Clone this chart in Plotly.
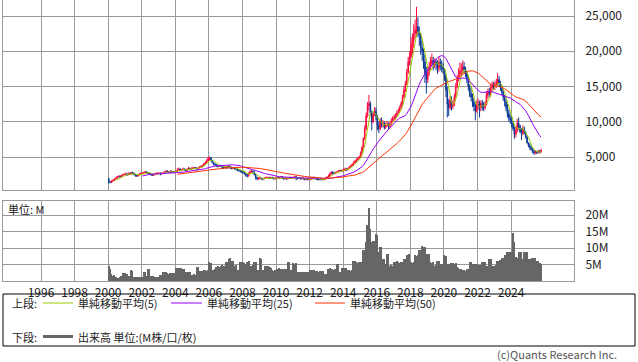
import pandas as pd
import plotly.graph_objects as go

# ---------------- data (monthly, Jan 2000 - Oct 2025) ----------------
close_px = [
    1500, 1400, 1600, 1700, 1900, 2000, 2200, 2300, 2200, 2400, 2500, 2500,
    2600, 2500, 2700, 2600, 2800, 2700, 2500, 2400, 2300, 2500, 2600, 2700,
    2700, 2800, 2900, 2800, 2700, 2600, 2500, 2400, 2500, 2600, 2700, 2700,
    2700, 2600, 2700, 2800, 2900, 3000, 2900, 2800, 3000, 2900, 2800, 2900,
    3000, 3200, 3300, 3100, 3200, 3300, 3200, 3100, 3300, 3400, 3300, 3400,
    3400, 3500, 3400, 3300, 3500, 3600, 3700, 3800, 4000, 4200, 4500, 4800,
    4900, 4500, 4200, 4000, 3900, 3800, 3700, 3800, 3700, 3600, 3500, 3600,
    3500, 3700, 3600, 3500, 3400, 3500, 3400, 3300, 3200, 3100, 3000, 2900,
    2900, 2600, 2400, 2300, 2700, 2900, 3000, 2900, 2500, 2100, 1900, 2000,
    2000, 1900, 1900, 2000, 2100, 2100, 2100, 2000, 2100, 2000, 1900, 2000,
    2100, 2000, 2100, 2200, 2000, 1900, 2000, 1900, 2000, 2100, 2000, 2100,
    2100, 2200, 2000, 2000, 2000, 1900, 2000, 1900, 1800, 1900, 1800, 1900,
    1900, 2000, 2100, 2000, 1900, 1800, 1800, 1800, 1800, 1800, 1900, 2000,
    2100, 2300, 2600, 2800, 2700, 2700, 2800, 2900, 3000, 3100, 3000, 3100,
    3200, 3300, 3200, 3400, 3600, 3800, 3900, 4200, 4400, 4600, 4800, 5000,
    5500, 6300, 7600, 9000, 10800, 12300, 12600, 11300, 10000, 11000, 11500, 10800,
    9500, 9000, 10200, 9700, 9800, 9200, 9500, 9700, 9300, 9700, 10200, 10500,
    10600, 10900, 11200, 11600, 12000, 12600, 13500, 14500, 15400, 17000, 18500, 19200,
    21000, 21500, 22500, 23000, 23500, 22800, 22300, 20500, 20000, 18500, 16800, 16000,
    17000, 17800, 18300, 18700, 18000, 18500, 18200, 17600, 18400, 18000, 17800, 17400,
    16500, 14500, 12500, 12000, 13000, 12200, 12400, 13500, 15000, 16000, 16800, 17200,
    17300, 17800, 17500, 16800, 16000, 15000, 14000, 13500, 12800, 12200, 11500, 12300,
    12500, 12000, 12600, 12200, 12000, 12400, 13800, 14200, 14000, 14800, 15200, 15000,
    15200, 15600, 16000, 15400, 14800, 14200, 13500, 12800, 12000, 11200, 10500, 10200,
    9800, 9000, 8200, 8700, 9800, 9400, 8600, 8300, 9000, 8500, 7800, 7000,
    6600, 6300, 6100, 5800, 5600, 5700, 5600, 5800, 5700, 5900,
]

open_px = [
    1900, 1500, 1400, 1600, 1700, 1900, 2000, 2200, 2300, 2200, 2400, 2500,
    2500, 2600, 2500, 2700, 2600, 2800, 2700, 2500, 2400, 2300, 2500, 2600,
    2700, 2700, 2800, 2900, 2800, 2700, 2600, 2500, 2400, 2500, 2600, 2700,
    2700, 2700, 2600, 2700, 2800, 2900, 3000, 2900, 2800, 3000, 2900, 2800,
    2900, 3000, 3200, 3300, 3100, 3200, 3300, 3200, 3100, 3300, 3400, 3300,
    3400, 3400, 3500, 3400, 3300, 3500, 3600, 3700, 3800, 4000, 4200, 4500,
    4800, 4900, 4500, 4200, 4000, 3900, 3800, 3700, 3800, 3700, 3600, 3500,
    3600, 3500, 3700, 3600, 3500, 3400, 3500, 3400, 3300, 3200, 3100, 3000,
    2900, 2900, 2600, 2400, 2300, 2700, 2900, 3000, 2900, 2500, 2100, 1900,
    2000, 2000, 1900, 1900, 2000, 2100, 2100, 2100, 2000, 2100, 2000, 1900,
    2000, 2100, 2000, 2100, 2200, 2000, 1900, 2000, 1900, 2000, 2100, 2000,
    2100, 2100, 2200, 2000, 2000, 2000, 1900, 2000, 1900, 1800, 1900, 1800,
    1900, 1900, 2000, 2100, 2000, 1900, 1800, 1800, 1800, 1800, 1800, 1900,
    2000, 2100, 2300, 2600, 2800, 2700, 2700, 2800, 2900, 3000, 3100, 3000,
    3100, 3200, 3300, 3200, 3400, 3600, 3800, 3900, 4200, 4400, 4600, 4800,
    5000, 5500, 6300, 7600, 9000, 10800, 12300, 12600, 11300, 10000, 11000, 11500,
    10800, 9500, 9000, 10200, 9700, 9800, 9200, 9500, 9700, 9300, 9700, 10200,
    10500, 10600, 10900, 11200, 11600, 12000, 12600, 13500, 14500, 15400, 17000, 18500,
    19200, 21000, 21500, 22500, 23000, 23500, 22800, 22300, 20500, 20000, 18500, 16800,
    16000, 17000, 17800, 18300, 18700, 18000, 18500, 18200, 17600, 18400, 18000, 17800,
    17400, 16500, 14500, 12500, 12000, 13000, 12200, 12400, 13500, 15000, 16000, 16800,
    17200, 17300, 17800, 17500, 16800, 16000, 15000, 14000, 13500, 12800, 12200, 11500,
    12300, 12500, 12000, 12600, 12200, 12000, 12400, 13800, 14200, 14000, 14800, 15200,
    15000, 15200, 15600, 16000, 15400, 14800, 14200, 13500, 12800, 12000, 11200, 10500,
    10200, 9800, 9000, 8200, 8700, 9800, 9400, 8600, 8300, 9000, 8500, 7800,
    7000, 6600, 6300, 6100, 5800, 5600, 5700, 5600, 5800, 5700,
]

high_px = [
    2000, 1600, 1700, 1800, 2000, 2100, 2300, 2400, 2400, 2500, 2600, 2700,
    2800, 2700, 2800, 2800, 2900, 2900, 2800, 2600, 2500, 2600, 2700, 2800,
    2800, 2900, 3000, 3000, 2900, 2800, 2700, 2600, 2600, 2700, 2800, 2800,
    2800, 2800, 2800, 2900, 3000, 3100, 3100, 3000, 3100, 3100, 3000, 3000,
    3100, 3400, 3500, 3400, 3300, 3500, 3400, 3300, 3400, 3600, 3500, 3500,
    3600, 3600, 3600, 3500, 3600, 3700, 3800, 3900, 4200, 4400, 4700, 5000,
    5100, 5000, 4600, 4300, 4100, 4000, 3900, 3900, 3900, 3800, 3700, 3700,
    3700, 3800, 3800, 3700, 3600, 3600, 3600, 3500, 3400, 3300, 3200, 3100,
    3100, 3000, 2700, 2600, 2800, 3100, 3200, 3100, 3000, 2600, 2200, 2100,
    2200, 2100, 2000, 2100, 2200, 2200, 2200, 2200, 2200, 2200, 2100, 2100,
    2200, 2200, 2200, 2300, 2300, 2100, 2100, 2100, 2100, 2200, 2200, 2200,
    2200, 2300, 2300, 2100, 2100, 2100, 2100, 2100, 2000, 2000, 2000, 2000,
    2000, 2100, 2200, 2200, 2100, 2000, 1900, 1900, 1900, 1900, 2000, 2100,
    2300, 2500, 2800, 3000, 3000, 2900, 2900, 3000, 3100, 3200, 3200, 3200,
    3400, 3500, 3400, 3500, 3700, 3900, 4100, 4400, 4600, 4800, 5000, 5200,
    5800, 6600, 7800, 9500, 11300, 12800, 13800, 12900, 11600, 11500, 12100, 12000,
    11000, 10000, 10500, 10600, 10200, 10000, 9900, 10100, 9900, 10000, 10500, 10800,
    11000, 11200, 11600, 11900, 12300, 12900, 13800, 15000, 15800, 17500, 19200, 20000,
    22000, 22500, 23800, 24500, 26300, 24800, 23500, 22600, 21500, 20400, 19500, 17800,
    17800, 18500, 19200, 19700, 19200, 19000, 18900, 18700, 19200, 19000, 18700, 18300,
    17600, 16800, 15000, 13200, 13600, 13600, 13000, 14000, 15500, 16600, 17600, 18400,
    18300, 18700, 18500, 17800, 17200, 16500, 15300, 14800, 14000, 13300, 12600, 13000,
    13300, 13000, 13000, 13100, 12800, 12900, 14300, 14700, 14800, 15400, 15700, 15600,
    15800, 16100, 16900, 16500, 15800, 15200, 14500, 13800, 13200, 12500, 11700, 11000,
    10800, 10000, 9300, 9400, 10400, 10600, 9600, 9100, 9500, 9300, 8700, 8000,
    7100, 6900, 6500, 6300, 6000, 6000, 5900, 6000, 6000, 6200,
]

low_px = [
    1200, 1300, 1300, 1500, 1600, 1800, 1900, 2100, 2100, 2100, 2300, 2400,
    2400, 2300, 2400, 2500, 2500, 2600, 2400, 2200, 2200, 2200, 2400, 2500,
    2600, 2600, 2700, 2700, 2600, 2500, 2400, 2300, 2300, 2400, 2500, 2600,
    2600, 2400, 2500, 2600, 2700, 2800, 2800, 2700, 2700, 2800, 2700, 2700,
    2800, 2900, 3100, 3000, 3000, 3100, 3100, 3000, 3000, 3200, 3200, 3200,
    3200, 3300, 3300, 3200, 3200, 3400, 3500, 3600, 3700, 3900, 4100, 4400,
    4500, 4400, 4100, 3800, 3700, 3600, 3500, 3600, 3600, 3400, 3300, 3400,
    3300, 3400, 3400, 3300, 3200, 3300, 3200, 3100, 3000, 2900, 2800, 2700,
    2600, 2500, 2200, 2100, 2200, 2600, 2800, 2700, 2400, 1800, 1700, 1800,
    1800, 1800, 1700, 1800, 1900, 2000, 1900, 1900, 1900, 1900, 1800, 1800,
    1900, 1900, 1900, 2000, 1900, 1800, 1800, 1800, 1800, 1900, 1900, 1900,
    1900, 2000, 1700, 1800, 1900, 1800, 1800, 1800, 1700, 1700, 1700, 1700,
    1700, 1800, 1900, 1900, 1800, 1700, 1700, 1700, 1700, 1700, 1700, 1800,
    1900, 2000, 2200, 2500, 2500, 2500, 2600, 2700, 2800, 2900, 2900, 2900,
    2900, 3000, 3000, 3100, 3300, 3500, 3700, 3800, 4100, 4200, 4500, 4700,
    4900, 5300, 6200, 7400, 8800, 10600, 11600, 10800, 8800, 9800, 10800, 10200,
    8800, 8400, 8800, 9200, 9200, 8900, 9000, 9300, 8900, 9100, 9500, 10000,
    10100, 10300, 10700, 11000, 11400, 11800, 12400, 13300, 14200, 15200, 16800, 18000,
    19000, 19500, 20500, 21800, 22200, 22000, 20800, 19500, 18700, 17500, 15500, 14000,
    15500, 16500, 17400, 17800, 17300, 17600, 17300, 16800, 17100, 17300, 17000, 16800,
    15800, 13500, 10600, 10800, 11700, 11600, 11800, 12200, 13300, 14700, 15700, 16300,
    16600, 16800, 16900, 16300, 15500, 14400, 13500, 12900, 12100, 11500, 10200, 11300,
    11700, 10600, 11500, 11600, 11500, 11700, 12300, 13300, 13500, 13600, 14300, 14500,
    14500, 14800, 15200, 15000, 14400, 13800, 13000, 12200, 11500, 10600, 10000, 9700,
    9200, 8700, 7600, 7800, 8500, 8900, 8400, 7400, 8100, 8200, 7600, 6900,
    6400, 6000, 5900, 5500, 5300, 5400, 5400, 5500, 5500, 5600,
]

volume_m = [
    4.7, 3.7, 2.1, 1.5, 1.9, 1.2, 0.6, 1.0, 1.3, 1.6, 2.3, 1.6,
    2.3, 2.0, 1.6, 1.6, 3.2, 3.0, 1.3, 1.3, 1.2, 1.1, 1.1, 1.2,
    1.2, 2.7, 2.6, 1.6, 3.7, 3.5, 1.6, 1.5, 1.6, 1.3, 1.3, 1.2,
    1.3, 1.9, 1.9, 2.7, 2.7, 2.6, 2.3, 2.2, 2.4, 2.3, 2.1, 2.3,
    4.0, 3.9, 4.1, 3.7, 3.8, 3.6, 3.7, 2.7, 2.8, 2.6, 2.7, 1.9,
    1.9, 2.0, 1.8, 4.4, 4.2, 2.9, 2.8, 3.0, 3.2, 3.3, 3.1, 3.4,
    5.7, 5.5, 3.4, 3.3, 3.5, 4.4, 4.5, 4.3, 4.7, 4.8, 4.6, 4.7,
    5.7, 5.8, 6.7, 7.1, 6.2, 6.1, 4.7, 4.8, 3.2, 3.3, 5.9, 5.8,
    5.9, 5.4, 5.3, 5.9, 6.0, 4.7, 4.6, 4.8, 5.9, 5.8, 3.2, 3.3,
    7.0, 6.8, 3.2, 3.3, 4.7, 4.6, 4.7, 4.2, 4.1, 3.2, 3.1, 3.3,
    3.7, 3.6, 3.8, 3.7, 3.6, 3.5, 3.7, 3.6, 5.9, 5.8, 3.2, 3.3,
    5.4, 5.3, 5.5, 2.7, 2.8, 2.6, 2.7, 2.5, 2.8, 2.7, 2.6, 2.7,
    3.2, 3.3, 3.1, 3.2, 3.0, 2.9, 2.8, 2.9, 3.0, 2.9, 2.1, 2.0,
    2.2, 3.7, 3.8, 3.6, 3.5, 3.4, 3.5, 5.2, 5.1, 2.7, 2.8, 3.9,
    3.9, 4.0, 3.8, 3.2, 3.3, 3.1, 3.2, 6.2, 6.0, 5.7, 5.6, 5.8,
    5.7, 5.8, 9.5, 9.3, 11.8, 16.9, 22.3, 15.9, 11.8, 12.3, 12.0, 14.2,
    14.0, 8.8, 10.3, 10.2, 6.7, 6.6, 5.2, 8.3, 8.2, 4.7, 4.8, 4.6,
    5.9, 5.8, 6.0, 5.7, 5.6, 5.8, 5.7, 6.7, 6.6, 8.0, 7.9, 8.1,
    5.7, 5.6, 5.8, 7.8, 7.7, 7.9, 9.5, 9.4, 10.5, 10.4, 10.3, 8.3,
    8.2, 8.1, 5.7, 5.6, 5.8, 4.7, 4.8, 6.0, 6.1, 5.2, 5.1, 5.3,
    7.8, 7.7, 5.2, 5.3, 5.1, 5.4, 5.5, 5.3, 5.4, 4.2, 4.1, 3.7,
    3.6, 3.2, 3.3, 3.1, 3.7, 3.6, 5.9, 5.8, 5.2, 5.1, 5.3, 5.2,
    4.9, 5.0, 4.8, 5.9, 5.8, 5.9, 4.7, 4.6, 6.7, 6.6, 4.7, 4.6,
    4.7, 4.8, 6.2, 6.1, 6.3, 6.9, 7.0, 7.8, 7.7, 8.8, 8.7, 8.9,
    8.8, 14.5, 11.8, 7.2, 7.1, 8.8, 8.9, 8.7, 6.7, 8.8, 8.9, 8.7,
    6.7, 6.6, 6.8, 7.0, 7.1, 6.9, 6.2, 6.1, 5.4, 5.3,
]

year_ticks = list(range(1996, 2025, 2))
price_ticks = [5000, 10000, 15000, 20000, 25000]
volume_ticks = [5, 10, 15, 20]
ma_windows = [5, 25, 50]
ma_labels = ["単純移動平均(5)", "単純移動平均(25)", "単純移動平均(50)"]

# ---------------- styling ----------------
W, H = 638, 362
RED = "#ff0a3c"
BLUE = "#0a3896"
MA_COLORS = ["#99cc00", "#9900ff", "#ff3300"]
VOL_COLOR = "#666666"
GRID = "#999999"
FONT = "Noto Sans CJK JP"


def px_x(v):
    return v / W


def px_y(v):
    return 1 - v / H


n = len(close_px)
months = pd.date_range("2000-01-01", periods=n, freq="MS") + pd.Timedelta(days=14)
closes = pd.Series(close_px, dtype=float)

fig = go.Figure()

fig.add_trace(go.Candlestick(
    x=months, open=open_px, high=high_px, low=low_px, close=close_px,
    increasing=dict(line=dict(color=RED, width=1), fillcolor=RED),
    decreasing=dict(line=dict(color=BLUE, width=1), fillcolor=BLUE),
    whiskerwidth=0, xaxis="x", yaxis="y", showlegend=False, hoverinfo="skip",
))

for w, c in zip(ma_windows, MA_COLORS):
    fig.add_trace(go.Scatter(
        x=months, y=closes.rolling(w, min_periods=w).mean(), mode="lines",
        line=dict(color=c, width=1), xaxis="x", yaxis="y",
        showlegend=False, hoverinfo="skip",
    ))

fig.add_trace(go.Bar(
    x=months, y=volume_m, marker=dict(color=VOL_COLOR, line=dict(width=0)),
    xaxis="x2", yaxis="y2", showlegend=False, hoverinfo="skip",
))

x_range = ["1993-09-26", "2027-10-02"]
tick_dates = [f"{y}-01-01" for y in year_ticks]
common_x = dict(
    type="date", range=x_range, tickvals=tick_dates, showgrid=True,
    gridcolor=GRID, gridwidth=1, showline=True, linecolor=GRID, linewidth=1,
    mirror=True, zeroline=False, fixedrange=True,
    domain=[px_x(3), px_x(574)],
)
common_y = dict(
    side="right", showgrid=True, gridcolor=GRID, gridwidth=1, showline=True,
    linecolor=GRID, linewidth=1, mirror=True, zeroline=False,
    ticks="outside", ticklen=8, tickcolor="rgba(0,0,0,0)", fixedrange=True,
    tickfont=dict(size=12, color="#222222", family=FONT),
)

fig.update_layout(
    width=W, height=H, autosize=False,
    margin=dict(l=0, r=0, t=0, b=0),
    paper_bgcolor="white", plot_bgcolor="white",
    font=dict(family=FONT, size=11, color="#222222"),
    bargap=0,
    showlegend=False,
    xaxis=dict(common_x, anchor="y", showticklabels=False,
               rangeslider=dict(visible=False)),
    yaxis=dict(common_y, anchor="x", range=[320, 27270],
               domain=[px_y(190), 1.0], tickvals=price_ticks,
               ticktext=[f"{v:,}" for v in price_ticks]),
    xaxis2=dict(common_x, anchor="y2", showticklabels=True,
                ticktext=[str(y) for y in year_ticks], ticks="outside",
                ticklen=1, tickcolor="rgba(0,0,0,0)",
                tickfont=dict(size=12, color="#222222", family=FONT)),
    yaxis2=dict(common_y, anchor="x2", range=[0, 24.3],
                domain=[px_y(281), px_y(201)], tickvals=volume_ticks,
                ticktext=[f"{v}M" for v in volume_ticks]),
)

shapes = [
    dict(type="rect", xref="paper", yref="paper", x0=px_x(3), x1=px_x(635),
         y0=px_y(346), y1=px_y(294), line=dict(color="black", width=1)),
]
legend_line_x = [(43, 73), (171, 202), (315, 345)]
for (a, b), c in zip(legend_line_x, MA_COLORS):
    shapes.append(dict(type="line", xref="paper", yref="paper", x0=px_x(a),
                       x1=px_x(b), y0=px_y(303), y1=px_y(303),
                       line=dict(color=c, width=1)))
shapes.append(dict(type="line", xref="paper", yref="paper", x0=px_x(43),
                   x1=px_x(73), y0=px_y(336.5), y1=px_y(336.5),
                   line=dict(color=VOL_COLOR, width=3)))
fig.update_layout(shapes=shapes)


def label(text, x, y, anchor="left", color="#222222", size=11):
    fig.add_annotation(text=text, xref="paper", yref="paper", x=px_x(x),
                       y=px_y(y), xanchor=anchor, yanchor="middle",
                       showarrow=False, borderpad=0,
                       font=dict(size=size, color=color, family=FONT))


label("単位: M", 7, 209)
label("上段:", 11, 303)
for x0, t in zip([77, 206, 349], ma_labels):
    label(t, x0, 303)
label("下段:", 11, 337)
label("出来高 単位:(M株/口/枚)", 77, 337)
label("(c)Quants Research Inc.", 618, 354, anchor="right", color="#555555")

fig.write_html(
    "out.html",
    config={"displayModeBar": False},
    post_script="document.body.style.margin='0';document.body.style.overflow='hidden';",
)
